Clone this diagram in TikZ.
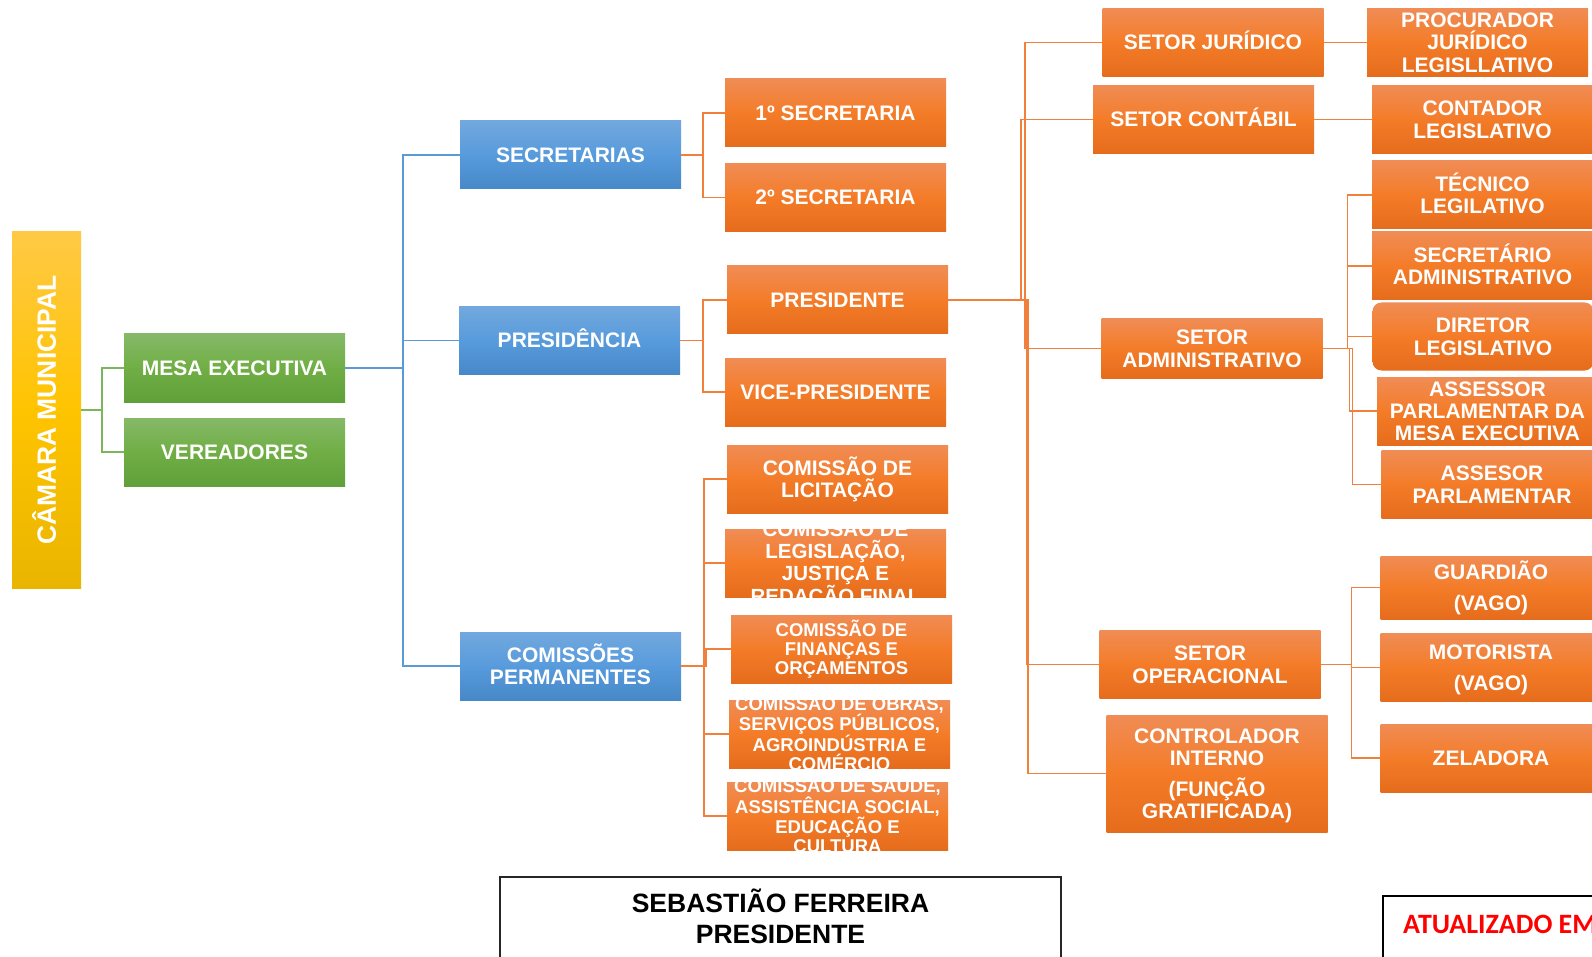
\documentclass[tikz,border=0pt]{standalone}
\usepackage{fontspec}
\setmainfont{Liberation Sans}
\newfontfamily\calib{Carlito}
\newcommand\fs[2]{\fontsize{#1}{#2}\selectfont\bfseries}
\newcommand\lb[3]{\rule{0pt}{#1pt}#3\rule[-#2pt]{0pt}{#2pt}}
\definecolor{oT}{HTML}{F08C55}
\definecolor{oM}{HTML}{F47C28}
\definecolor{oB}{HTML}{E46C1C}
\definecolor{bT}{HTML}{72A8DE}
\definecolor{bM}{HTML}{589BDC}
\definecolor{bB}{HTML}{4688C8}
\definecolor{gT}{HTML}{85B968}
\definecolor{gM}{HTML}{70AE45}
\definecolor{gB}{HTML}{60A03A}
\definecolor{yT}{HTML}{FFC945}
\definecolor{yM}{HTML}{FFC400}
\definecolor{yB}{HTML}{E9B500}
\definecolor{oL}{HTML}{F0803C}
\definecolor{gL}{HTML}{7CB65A}
\definecolor{bL}{HTML}{5B9BD5}
\tikzset{
  bx/.style={rectangle, minimum width=221pt, minimum height=68pt, inner sep=0pt, outer sep=0pt},
  ob/.style={bx, top color=oT, bottom color=oB, middle color=oM},
  bb/.style={bx, top color=bT, bottom color=bB, middle color=bM},
  gb/.style={bx, top color=gT, bottom color=gB, middle color=gM},
  yb/.style={bx, top color=yT, bottom color=yB, middle color=yM},
  lbl/.style={text=white, align=center, inner sep=0pt, font=\fs{21}{22.3}},
  t/.style={path picture={\node[lbl] at (path picture bounding box.center) {\lb{21}{6}{#1}};}},
  tm/.style={path picture={\node[lbl, font=\fs{20.5}{21.8}] at (path picture bounding box.center) {\lb{20.5}{5.8}{#1}};}},
  ts/.style={path picture={\node[lbl, font=\fs{18.5}{19.3}] at (path picture bounding box.center) {\lb{19}{5.75}{#1}};}},
  ol/.style={draw=oL, line width=1.4pt},
  gl/.style={draw=gL, line width=1.4pt},
  bl/.style={draw=bL, line width=1.4pt},
}
\begin{document}
\begin{tikzpicture}[x=1pt,y=-1pt]
\useasboundingbox (0,0) rectangle (1592,957);
\clip (0,0) rectangle (1592,957);
\fill[white] (0,0) rectangle (1592,957);

% level 0
\node[yb, minimum width=69pt, minimum height=356pt,
  path picture={\node[lbl, rotate=90, font=\fs{26.4}{28}] at (path picture bounding box.center) {\lb{26}{7.1}{CÂMARA MUNICIPAL}};}] (camara) at (46.5,410) {};

% level 1
\node[gb, t={MESA EXECUTIVA}] (mesa) at (234.5,368) {};
\node[gb, t={VEREADORES}] (ver) at (234.5,452) {};

% level 2
\node[bb, t={SECRETARIAS}] (secr) at (570.5,155) {};
\node[bb, t={PRESIDÊNCIA}] (presid) at (569.5,340.5) {};
\node[bb, t={COMISSÕES\\PERMANENTES}] (comis) at (570.5,666) {};

% level 3
\node[ob, t={1º SECRETARIA}] (sec1) at (835.5,113) {};
\node[ob, t={2º SECRETARIA}] (sec2) at (835.5,197.5) {};
\node[ob, t={PRESIDENTE}] (pres) at (837.5,300) {};
\node[ob, t={VICE-PRESIDENTE}] (vice) at (835.5,392) {};
\node[ob, t={COMISSÃO DE\\LICITAÇÃO}] (clic) at (837.5,479) {};
\node[ob, tm={COMISSÃO DE\\LEGISLAÇÃO,\\JUSTIÇA E\\REDAÇÃO FINAL}] (cleg) at (835.5,563) {};
\node[ob, ts={COMISSÃO DE\\FINANÇAS E\\ORÇAMENTOS}] (cfin) at (841.5,649) {};
\node[ob, ts={COMISSÃO DE OBRAS,\\SERVIÇOS PÚBLICOS,\\AGROINDÚSTRIA E\\COMÉRCIO}] (cobr) at (839.5,734) {};
\node[ob, ts={COMISSÃO DE SAÚDE,\\ASSISTÊNCIA SOCIAL,\\EDUCAÇÃO E\\CULTURA}] (csau) at (837.5,816) {};

% level 4
\node[ob, t={SETOR JURÍDICO}] (jur) at (1213,42.5) {};
\node[ob, t={SETOR CONTÁBIL}] (cont) at (1203.5,119.5) {};
\node[ob, minimum height=59pt, t={SETOR\\ADMINISTRATIVO}] (adm) at (1212,348.5) {};
\node[ob, t={SETOR\\OPERACIONAL}] (oper) at (1210,664.5) {};
\node[ob, minimum height=117pt, t={CONTROLADOR\\INTERNO\\[8pt](FUNÇÃO\\GRATIFICADA)}] (ctrl) at (1217,773.5) {};

% level 5
\node[ob, t={PROCURADOR\\JURÍDICO\\LEGISLLATIVO}] (proc) at (1477.5,42.5) {};
\node[ob, t={CONTADOR\\LEGISLATIVO}] (contad) at (1482.5,119.5) {};
\node[ob, t={TÉCNICO\\LEGILATIVO}] (tec) at (1482.5,195) {};
\node[ob, t={SECRETÁRIO\\ADMINISTRATIVO}] (secadm) at (1482.5,266) {};
\node[ob, rounded corners=9pt, t={DIRETOR\\LEGISLATIVO}] (dir) at (1483,336.5) {};
\node[ob, t={ASSESSOR\\PARLAMENTAR DA\\MESA EXECUTIVA}] (assm) at (1487.5,411) {};
\node[ob, t={ASSESOR\\PARLAMENTAR}] (ass) at (1492,484.5) {};
\node[ob, minimum height=63pt, t={GUARDIÃO\\[8pt](VAGO)}] (guard) at (1491,587.5) {};
\node[ob, t={MOTORISTA\\[8pt](VAGO)}] (mot) at (1491,667.5) {};
\node[ob, t={ZELADORA}] (zel) at (1491,758) {};

% connectors
\draw[gl] (camara.east) -- ++(21,0) |- (mesa.west);
\draw[gl] (camara.east) -- ++(21,0) |- (ver.west);
\draw[bl] (mesa.east) -- ++(58,0) |- (secr.west);
\draw[bl] (mesa.east) -- ++(58,0) |- (presid.west);
\draw[bl] (mesa.east) -- ++(58,0) |- (comis.west);

\draw[ol] (secr.east) -- ++(22,0) |- (sec1.west);
\draw[ol] (secr.east) -- ++(22,0) |- (sec2.west);
\draw[ol] (presid.east) -- ++(23,0) |- (pres.west);
\draw[ol] (presid.east) -- ++(23,0) |- (vice.west);
\draw[ol] (comis.east) -- ++(23,0) |- (clic.west);
\draw[ol] (comis.east) -- ++(23,0) |- (cleg.west);
\draw[ol] (comis.east) -- ++(25,0) |- (cfin.west);
\draw[ol] (comis.east) -- ++(23,0) |- (cobr.west);
\draw[ol] (comis.east) -- ++(23,0) |- (csau.west);

\draw[ol] (pres.east) -- ++(77,0) |- (jur.west);
\draw[ol] (pres.east) -- ++(73,0) |- (cont.west);
\draw[ol] (pres.east) -- ++(77,0) |- (adm.west);
\draw[ol] (pres.east) -- ++(79,0) |- (oper.west);
\draw[ol] (pres.east) -- ++(80,0) |- (ctrl.west);

\draw[ol] (jur.east) -- (proc.west);
\draw[ol] (cont.east) -- (contad.west);
\draw[ol] (adm.east) -- ++(25,0) |- (tec.west);
\draw[ol] (adm.east) -- ++(25,0) |- (secadm.west);
\draw[ol] (adm.east) -- ++(25,0) |- (dir.west);
\draw[ol] (adm.east) -- ++(27,0) |- (assm.west);
\draw[ol] (adm.east) -- ++(30,0) |- (ass.west);
\draw[ol] (oper.east) -- ++(31,0) |- (guard.west);
\draw[ol] (oper.east) -- ++(31,0) |- (mot.west);
\draw[ol] (oper.east) -- ++(31,0) |- (zel.west);

% bottom boxes
\node[draw=black!85, line width=2pt, minimum width=561pt, minimum height=110pt, inner sep=0pt] (sig) at (780.5,932) {};
\node[font=\fs{26.5}{31}, align=center, inner sep=0pt] (sigtxt) at (780.5,918.5) {\lb{26}{7}{SEBASTIÃO FERREIRA\\PRESIDENTE}};
\node[draw=black, line width=2pt, minimum width=260pt, minimum height=120pt, anchor=north west, inner sep=0pt] (upd) at (1382,895) {};
\node[anchor=west, text=red, font=\calib\bfseries\fontsize{28}{30}\selectfont, inner sep=0pt] (updtxt) at (1403,924.5) {ATUALIZADO EM};
\end{tikzpicture}
\end{document}
